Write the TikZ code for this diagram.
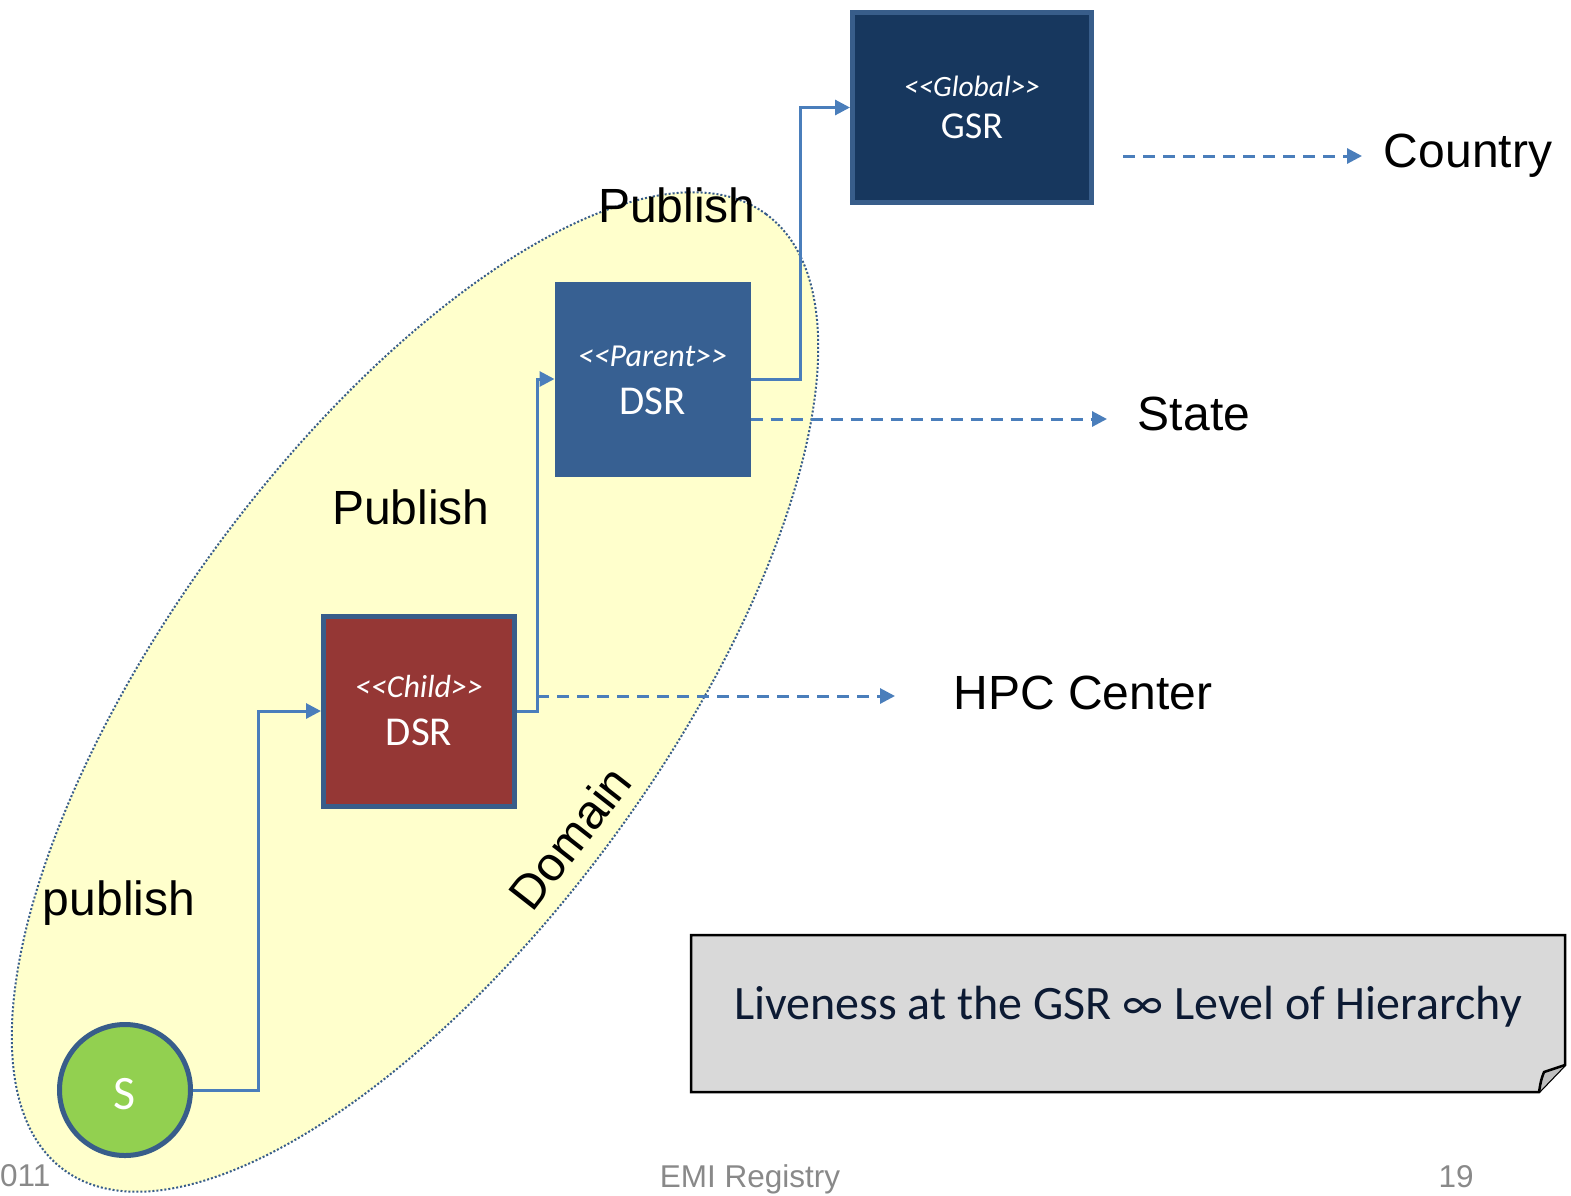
\documentclass[tikz,border=0pt]{standalone}
\usepackage{fontspec}
\setmainfont{Liberation Sans}
\newfontfamily\boxfont{Carlito}
\usetikzlibrary{arrows.meta}

\definecolor{domainfill}{HTML}{FFFFCC}
\definecolor{edge}{HTML}{385D8A}
\definecolor{link}{HTML}{4A7EBB}
\definecolor{globalfill}{HTML}{17375E}
\definecolor{parentfill}{HTML}{376092}
\definecolor{childfill}{HTML}{953735}
\definecolor{srcfill}{HTML}{92D050}
\definecolor{notefill}{HTML}{D9D9D9}
\definecolor{foldfill}{HTML}{BFBFBF}
\definecolor{notetext}{HTML}{0C1A33}
\definecolor{footgray}{HTML}{898989}

\begin{document}
\begin{tikzpicture}[x=1pt,y=-1pt,
  regbox/.style={draw=edge,line width=5pt,minimum width=191pt,minimum height=190pt,inner sep=0pt},
  tagtext/.style={text=white,font=\boxfont\fontsize{32}{34}\selectfont\itshape,anchor=base},
  nametext/.style={text=white,font=\boxfont\fontsize{41}{44}\selectfont,anchor=base},
  conn/.style={draw=link,line width=3pt,-{Triangle[length=15pt,width=15pt]}},
  dasharrow/.style={draw=link,line width=3pt,dash pattern=on 12pt off 8pt,-{Triangle[length=15pt,width=15pt]}},
  biglabel/.style={font=\fontsize{48}{50}\selectfont,anchor=base,inner sep=0pt},
  publabel/.style={font=\fontsize{48}{50}\selectfont,anchor=base,inner sep=0pt},
  foot/.style={font=\fontsize{31.5}{33}\selectfont,text=footgray,anchor=base,inner sep=0pt}]
\useasboundingbox (0,0) rectangle (1571,1195);

% domain ellipse
\draw[fill=domainfill,draw=edge,line width=2pt,dash pattern=on 2pt off 2pt,
      rotate around={53.7:(415,692)}] (415,692) ellipse [x radius=593, y radius=246];

% registries
\node[regbox,fill=globalfill,minimum width=239pt] (gsr) at (972,107.5) {};
\node[tagtext,font=\boxfont\fontsize{29.5}{32}\selectfont\itshape] (gsrtag) at (972,96) {<{}<Global>{}>};
\node[nametext,font=\boxfont\fontsize{38}{40}\selectfont] (gsrname) at (972,138) {GSR};

\node[regbox,fill=parentfill,draw=parentfill] (parent) at (652.5,379) {};
\node[tagtext] (parenttag) at (652.5,366) {<{}<Parent>{}>};
\node[nametext] (parentname) at (652.5,414) {DSR};

\node[regbox,fill=childfill] (child) at (419,711) {};
\node[tagtext] (childtag) at (419,697) {<{}<Child>{}>};
\node[nametext] (childname) at (419,745) {DSR};

\node[circle,draw=edge,line width=5pt,fill=srcfill,minimum size=131pt,inner sep=0pt] (src) at (125,1090) {};
\node[text=white,font=\boxfont\fontsize{48}{50}\selectfont,anchor=base] (srcname) at (125,1109) {S};

% publish chain
\draw[conn] (src.east) -- ++(65,0) |- (child.west);
\draw[conn] (child.east) -- ++(20,0) |- (parent.west);
\draw[conn] (parent.east) -- ++(50,0) |- (gsr.west);

% levels
\node[biglabel] (country) at (1468,167) {Country};
\node[biglabel] (state) at (1194,430) {State};
\node[biglabel] (hpc) at (1083,709) {HPC Center};

\coordinate (countryend) at (1362,156);
\coordinate (stateend) at (1107,419);
\coordinate (hpcend) at (895,696);
\draw[dasharrow] ([shift={(29pt,-48.5pt)}]gsr.east) -- (countryend);
\draw[dasharrow] ([yshift=-40pt]parent.east) -- (stateend);
\draw[dasharrow] ([shift={(20pt,15pt)}]child.east) -- (hpcend);

% publish labels
\node[publabel] (pubtop) at (677,222) {Publish};
\node[publabel] (pubmid) at (411,524) {Publish};
\node[publabel] (publow) at (119,915) {publish};
\node[biglabel,anchor=center,rotate=52] (domain) at (570,838) {Domain};

% note with folded corner
\draw[fill=notefill,line width=2.5pt,line join=miter]
  (691,935) -- (1565,935) -- (1565,1065) -- (1539,1092) -- (691,1092) -- cycle;
\draw[fill=foldfill,line width=2.5pt,line join=round]
  (1539,1092) .. controls (1541,1080) .. (1544,1072) .. controls (1553,1069) .. (1565,1065);
\node[text=notetext,font=\boxfont\fontsize{48}{50}\selectfont,anchor=base] (note) at (1128,1019)
  {Liveness at the GSR ∞ Level of Hierarchy};

% footer
\node[foot,anchor=base west] (footdate) at (0,1186) {011};
\node[foot] (foottitle) at (750,1187) {EMI Registry};
\node[foot] (footpage) at (1456,1187) {19};
\end{tikzpicture}
\end{document}
